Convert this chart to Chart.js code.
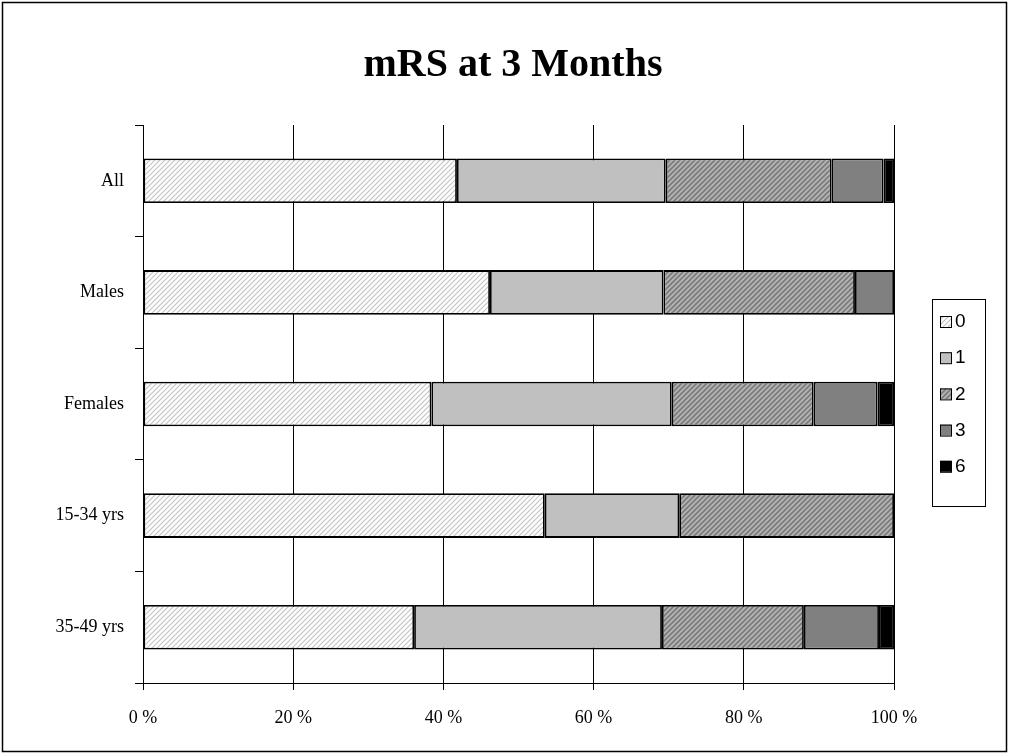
<!DOCTYPE html>
<html><head><meta charset="utf-8">
<script src="https://cdn.jsdelivr.net/npm/chart.js@4"></script>
<style>html,body{margin:0;padding:0;background:#fff}#wrap{width:1010px;height:755px;position:relative}</style>
</head><body><div id="wrap"><canvas id="c" width="1010" height="755"></canvas></div>
<script>
const categories = ['All', 'Males', 'Females', '15-34 yrs', '35-49 yrs'];
const seriesLabels = ['0', '1', '2', '3', '6'];
const mrs0 = [41.8, 46.2, 38.4, 53.5, 36.1];
const mrs1 = [27.8, 23.1, 32.0, 17.9, 33.0];
const mrs2 = [22.1, 25.5, 18.9, 28.6, 18.9];
const mrs3 = [6.9, 5.2, 8.5, 0, 10.0];
const mrs6 = [1.4, 0, 2.2, 0, 2.0];
const xTicks = [0, 20, 40, 60, 80, 100];
const titleText = 'mRS at 3 Months';

function stripes(bg, fg, size, lw) {
  const c = document.createElement('canvas');
  c.width = size; c.height = size;
  const g = c.getContext('2d');
  g.fillStyle = bg; g.fillRect(0, 0, size, size);
  g.strokeStyle = fg; g.lineWidth = lw;
  g.beginPath();
  g.moveTo(-1, size + 1); g.lineTo(size + 1, -1);
  g.moveTo(-1, 1); g.lineTo(1, -1);
  g.moveTo(size - 1, size + 1); g.lineTo(size + 1, size - 1);
  g.stroke();
  return g.createPattern(c, 'repeat');
}
const ctx = document.getElementById('c').getContext('2d');
const fills = [
  stripes('#ffffff', '#c4c4c4', 5, 1.2),
  '#c0c0c0',
  stripes('#b4b4b4', '#7a7a7a', 5, 1.6),
  '#808080',
  '#000000'
];
const seriesData = [mrs0, mrs1, mrs2, mrs3, mrs6];

const datasets = seriesLabels.map((lab, i) => ({
  label: lab,
  data: seriesData[i].map(v => v === 0 ? null : v),
  backgroundColor: fills[i],
  borderColor: '#000',
  borderWidth: 1.8,
  borderSkipped: false,
  barPercentage: 0.4,
  categoryPercentage: 1
}));

const decor = {
  id: 'decor',
  beforeDraw(chart) {
    const g = chart.ctx;
    g.save(); g.fillStyle = '#fff'; g.fillRect(0, 0, chart.width, chart.height); g.restore();
  },
  afterDraw(chart) {
    const g = chart.ctx;
    g.save();
    g.strokeStyle = '#000'; g.lineWidth = 1.5;
    g.strokeRect(2.5, 2.5, 1004, 749);
    g.fillStyle = '#000';
    g.font = 'bold 40px "Liberation Serif", "Times New Roman", serif';
    g.textAlign = 'center'; g.textBaseline = 'alphabetic';
    g.fillText(titleText, 513, 76);
    // legend
    g.lineWidth = 1;
    g.strokeRect(932.5, 299.5, 53, 207);
    g.font = '19px "Liberation Sans", Arial, sans-serif';
    g.textAlign = 'left'; g.textBaseline = 'middle';
    seriesLabels.forEach((lab, i) => {
      const cy = 321 + i * 36.2;
      g.fillStyle = fills[i];
      g.fillRect(940, cy - 5, 11, 11);
      g.strokeStyle = '#000';
      g.strokeRect(940.5, cy - 5 + 0.5, 11, 11);
      g.fillStyle = '#000';
      g.fillText(lab, 955, cy + 1);
    });
    g.restore();
  }
};

new Chart(ctx, {
  type: 'bar',
  data: { labels: categories, datasets },
  options: {
    indexAxis: 'y',
    responsive: false,
    animation: false,
    devicePixelRatio: 1,
    layout: { padding: { top: 125, right: 116, bottom: 0, left: 0 } },
    plugins: { legend: { display: false }, title: { display: false }, tooltip: { enabled: false } },
    scales: {
      x: {
        type: 'linear', min: 0, max: 100, stacked: true,
        afterBuildTicks: s => { s.ticks = xTicks.map(v => ({ value: v })); },
        ticks: {
          callback: v => v + ' %', color: '#000', padding: 17,
          font: { family: '"Liberation Serif", "Times New Roman", serif', size: 18 }
        },
        grid: { color: '#000', lineWidth: 1, tickLength: 7, drawTicks: true },
        border: { display: true, color: '#000', width: 1 },
        afterFit: s => { s.height = 72; }
      },
      y: {
        type: 'category', stacked: true, offset: true,
        ticks: {
          color: '#000', padding: 11,
          font: { family: '"Liberation Serif", "Times New Roman", serif', size: 18 }
        },
        grid: { offset: true, drawOnChartArea: false, color: '#000', tickLength: 8 },
        border: { display: true, color: '#000', width: 1 },
        afterFit: s => { s.width = 143; }
      }
    }
  },
  plugins: [decor]
});
</script></body></html>
